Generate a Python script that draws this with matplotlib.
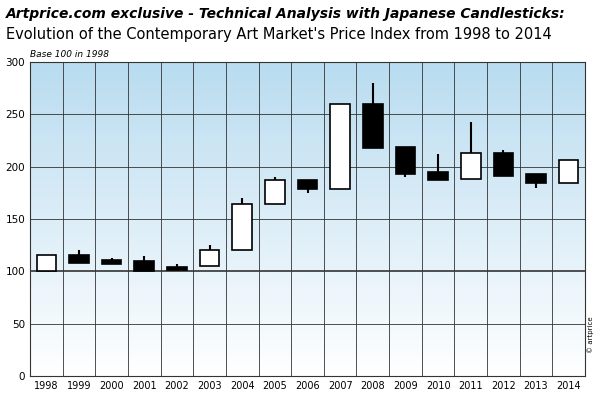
import numpy as np
import matplotlib.pyplot as plt

years = ['1998', '1999', '2000', '2001', '2002', '2003', '2004', '2005', '2006',
         '2007', '2008', '2009', '2010', '2011', '2012', '2013', '2014']
opens = [100, 116, 111, 110, 104, 105, 120, 164, 187, 179, 260, 219, 195, 188, 213, 193, 184]
closes = [116, 108, 107, 100, 101, 120, 164, 187, 179, 260, 218, 193, 187, 213, 191, 184, 206]
highs = [116, 120, 113, 115, 107, 125, 170, 190, 187, 260, 280, 219, 212, 243, 216, 193, 206]
lows = [100, 108, 107, 100, 101, 105, 120, 164, 175, 179, 218, 190, 187, 188, 191, 180, 184]

fig = plt.figure(figsize=(6, 4), dpi=100)
ax = fig.add_axes([0.05, 0.06, 0.925, 0.785])

# gradient background: light blue at top fading to white
grad = np.linspace(0, 1, 256).reshape(-1, 1)
ax.imshow(grad, extent=[-0.5, len(years) - 0.5, 0, 300], aspect='auto',
          cmap=plt.matplotlib.colors.LinearSegmentedColormap.from_list(
              'bg', ['#ffffff', '#b9dcf0']), origin='lower', zorder=0)

for y in range(50, 300, 50):
    ax.axhline(y, color='#333333', lw=0.6 if y != 100 else 1.2, zorder=1)
for i in range(len(years)):
    ax.axvline(i + 0.5, color='#333333', lw=0.6, zorder=1)

for i in range(len(years)):
    o, c = opens[i], closes[i]
    ax.vlines(i, lows[i], highs[i], color='black', lw=1.5, zorder=2)
    face = 'white' if c > o else 'black'
    ax.bar(i, abs(c - o), bottom=min(o, c), width=0.6, color=face,
           edgecolor='black', lw=1.2, zorder=3)

ax.set_xlim(-0.5, len(years) - 0.5)
ax.set_ylim(0, 300)
ax.set_xticks(range(len(years)))
ax.set_xticklabels(years, fontsize=7)
ax.set_yticks(range(0, 301, 50))
ax.tick_params(axis='y', labelsize=7.5, length=0)
ax.tick_params(axis='x', length=0)
for s in ax.spines.values():
    s.set_color('#333333')
    s.set_linewidth(0.8)
ax.text(0.0, 1.01, 'Base 100 in 1998', transform=ax.transAxes, fontsize=6.5,
        style='italic', va='bottom')

fig.text(0.01, 0.965, 'Artprice.com exclusive - Technical Analysis with Japanese Candlesticks:',
         fontsize=10, style='italic', weight='bold', va='center')
fig.text(0.01, 0.915, "Evolution of the Contemporary Art Market's Price Index from 1998 to 2014",
         fontsize=10.5, va='center')
fig.text(0.985, 0.12, '© artprice', fontsize=5, rotation=90, ha='center')

fig.savefig('out.png')
